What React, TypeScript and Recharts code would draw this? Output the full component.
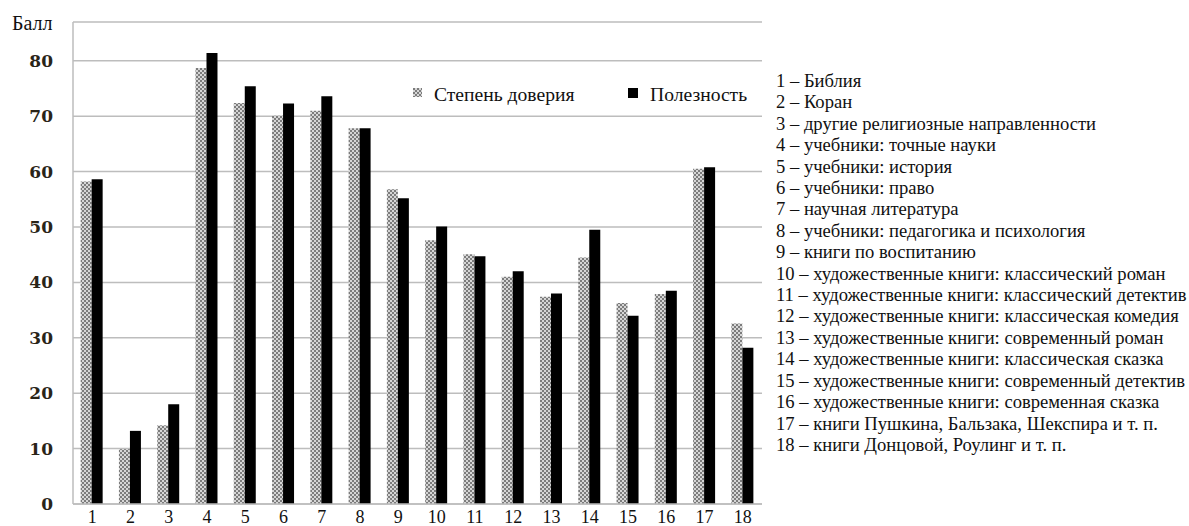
import React from 'react';
import { BarChart, Bar, XAxis, YAxis, CartesianGrid } from 'recharts';

const categories = ['1', '2', '3', '4', '5', '6', '7', '8', '9', '10', '11', '12', '13', '14', '15', '16', '17', '18'];
const trust = [58.2, 9.9, 14.2, 78.7, 72.4, 70.1, 71.0, 67.8, 56.8, 47.6, 45.1, 41.0, 37.4, 44.5, 36.3, 37.9, 60.5, 32.6];
const usefulness = [58.6, 13.2, 18.0, 81.4, 75.4, 72.3, 73.6, 67.8, 55.2, 50.1, 44.7, 42.0, 38.0, 49.5, 34.0, 38.5, 60.8, 28.2];
const yTicks = [0, 10, 20, 30, 40, 50, 60, 70, 80];
const seriesNames = ['Степень доверия', 'Полезность'];
const yAxisTitle = 'Балл';
const descriptions = [
  '1 – Библия',
  '2 – Коран',
  '3 – другие религиозные направленности',
  '4 – учебники: точные науки',
  '5 – учебники: история',
  '6 – учебники: право',
  '7 – научная литература',
  '8 – учебники: педагогика и психология',
  '9 – книги по воспитанию',
  '10 – художественные книги: классический роман',
  '11 – художественные книги: классический детектив',
  '12 – художественные книги: классическая комедия',
  '13 – художественные книги: современный роман',
  '14 – художественные книги: классическая сказка',
  '15 – художественные книги: современный детектив',
  '16 – художественные книги: современная сказка',
  '17 – книги Пушкина, Бальзака, Шекспира и т. п.',
  '18 – книги Донцовой, Роулинг и т. п.',
];

const data = categories.map((c, i) => ({ name: c, trust: trust[i], useful: usefulness[i] }));

const serif = '"Liberation Serif", "Times New Roman", serif';

export default function App() {
  return (
    <div style={{ position: 'absolute', left: 0, top: 0, width: 1189, height: 526, background: '#fff', overflow: 'hidden' }}>
      <svg width="0" height="0" style={{ position: 'absolute' }}>
        <defs>
          <pattern id="hatchPat" x="0" y="0" width="4" height="4" patternUnits="userSpaceOnUse">
            <rect x="0" y="0" width="4" height="4" fill="#d6d6d6" />
            <rect x="0" y="0" width="2" height="2" fill="#7c7c7c" />
            <rect x="2" y="2" width="2" height="2" fill="#7c7c7c" />
          </pattern>
        </defs>
      </svg>
      <BarChart
        width={1189}
        height={526}
        data={data}
        margin={{ top: 22, right: 427, bottom: 0, left: 0 }}
        barCategoryGap="20%"
        barGap={0}
      >
        <CartesianGrid vertical={false} stroke="#bdbdbd" strokeWidth={1.5} />
        <XAxis
          dataKey="name"
          height={22}
          axisLine={{ stroke: '#bdbdbd', strokeWidth: 1.5 }}
          tickLine={false}
          tickMargin={0}
          interval={0}
          tick={{ fontFamily: serif, fontSize: 18, fill: '#111' }}
        />
        <YAxis
          width={73}
          domain={[0, 87]}
          ticks={yTicks}
          allowDataOverflow
          axisLine={{ stroke: '#bdbdbd', strokeWidth: 1.5 }}
          tickLine={false}
          tickMargin={14}
          tick={{ fontFamily: '"DejaVu Serif", serif', fontWeight: 'bold', fontSize: 17, fill: '#2a2418' }}
        />
        <Bar dataKey="trust" fill="url(#hatchPat)" isAnimationActive={false} />
        <Bar dataKey="useful" fill="#000" isAnimationActive={false} />
      </BarChart>

      <div style={{ position: 'absolute', left: 12, top: 12, fontFamily: serif, fontSize: 20, color: '#111', whiteSpace: 'nowrap' }}>{yAxisTitle}</div>

      <svg width="10" height="10" style={{ position: 'absolute', left: 413, top: 88 }}>
        <rect x="0" y="0" width="9" height="9" fill="url(#hatchPat)" />
      </svg>
      <div style={{ position: 'absolute', left: 434, top: 84, fontFamily: serif, fontSize: 19.6, color: '#111', whiteSpace: 'nowrap', lineHeight: '22px' }}>
        {seriesNames[0]}
      </div>
      <svg width="10" height="10" style={{ position: 'absolute', left: 628, top: 88 }}>
        <rect x="0" y="0" width="10" height="10" fill="#000" />
      </svg>
      <div style={{ position: 'absolute', left: 650, top: 84, fontFamily: serif, fontSize: 19.6, color: '#111', whiteSpace: 'nowrap', lineHeight: '22px' }}>
        {seriesNames[1]}
      </div>

      <div style={{ position: 'absolute', left: 776, top: 70, fontFamily: serif, fontSize: 18.6, color: '#111', lineHeight: '21.4px', whiteSpace: 'nowrap' }}>
        {descriptions.map((d) => (
          <div key={d}>{d}</div>
        ))}
      </div>
    </div>
  );
}
